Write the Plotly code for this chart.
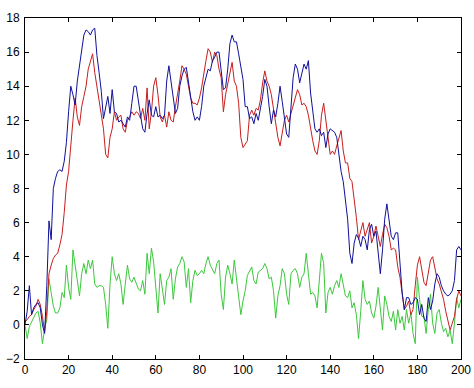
import plotly.graph_objects as go

x_vals = list(range(0, 201))

blue_vals = [
    0.0, 0.8, 2.3, 0.6, 1.0, 1.2, 1.3, 1.0, 0.0, -0.5,
    2.3, 6.1, 5.0, 8.0, 8.6, 9.0, 9.1, 9.0, 9.6, 10.7,
    12.5, 14.0, 13.5, 12.9, 14.3, 15.2, 16.0, 17.0, 17.3, 17.2,
    17.0, 17.3, 17.4, 15.8, 14.8, 13.7, 12.1, 12.8, 13.4, 12.4,
    13.8, 12.5, 12.4, 11.9, 12.0, 11.8, 11.6, 12.2, 12.0, 13.0,
    14.0, 14.0, 13.0, 12.3, 11.5, 11.3, 12.4, 13.2, 12.3, 12.2,
    12.8, 12.2, 12.3, 12.1, 12.3, 14.3, 15.2, 14.2, 13.2, 12.4,
    12.7, 14.0, 14.6, 15.0, 15.1, 14.2, 13.2, 12.5, 12.0, 12.2,
    12.0, 12.8, 14.0, 14.5, 15.0, 14.9, 15.5, 15.7, 16.0, 16.0,
    14.8, 13.8, 13.9, 15.0, 16.5, 17.0, 16.6, 16.6, 15.9, 15.0,
    14.4, 12.8, 12.8, 12.1, 12.2, 11.8, 12.4, 12.0, 12.6, 13.4,
    14.4, 14.0, 12.8, 11.8, 12.6, 12.2, 13.0, 14.0, 13.1, 12.1,
    11.2, 11.0, 12.8, 14.5, 15.3, 15.0, 14.2, 14.8, 15.3, 15.0,
    15.5, 13.6, 12.7, 11.5, 11.3, 11.5, 11.1, 11.3, 10.4, 11.2,
    11.5, 11.4, 11.3, 11.0, 10.0, 9.0, 8.4, 7.2, 6.2, 4.2,
    3.6, 4.8, 5.3, 5.1, 4.6, 5.2, 5.0, 4.4, 5.6, 5.9,
    5.2, 5.5, 4.3, 3.0, 4.4, 6.2, 7.1, 6.2, 5.2, 5.0,
    5.4, 5.4, 3.5, 1.9, 0.9, 1.6, 1.6, 1.2, 1.3, 1.6,
    1.5, 0.6, 1.2, 0.4, 0.2, 1.6, 0.9, 1.4, 2.4, 3.0,
    2.8, 2.3, 2.0, 1.8, 1.7, 1.8, 2.0, 2.6, 4.4, 4.6,
    4.4,
]

red_vals = [
    0.2, 0.3, 0.5, 0.6, 0.9, 1.1, 1.5, 1.2, 0.5, -0.4,
    0.8, 3.0, 3.5, 3.9, 4.1, 4.2, 4.7, 5.3, 6.6, 8.2,
    9.0, 10.8, 12.0, 13.3, 12.2, 11.7, 12.8, 13.4, 14.0, 15.0,
    15.5, 15.9, 14.8, 14.0, 13.2, 12.5, 11.5, 10.0, 9.8, 11.0,
    11.5, 12.5, 12.0, 12.2, 12.3, 11.5, 11.3, 12.0, 12.2, 12.5,
    12.3, 12.5, 12.4, 12.1, 12.7, 12.0, 13.9, 11.5, 12.5, 14.0,
    14.5, 13.5, 12.2, 11.9, 12.3, 11.6, 12.5, 12.0, 11.9, 12.8,
    13.5, 14.3, 15.2, 15.0, 14.7, 14.0, 13.3, 13.0, 13.0, 12.9,
    13.3, 13.9, 14.8, 15.5, 16.2, 16.0, 15.4, 16.0, 15.8, 15.0,
    14.5, 12.5, 13.5, 14.1, 14.9, 15.4, 14.3, 14.0, 13.0, 11.0,
    10.4, 10.6, 10.8, 12.3, 12.6, 12.3, 12.7, 12.6, 13.2, 14.2,
    14.9, 14.3, 14.0, 13.5, 12.7, 12.0, 11.0, 10.5, 11.3, 12.0,
    12.3, 11.9, 12.4, 12.9, 13.3, 13.8, 13.5, 12.9, 13.0, 12.8,
    12.3, 11.5, 10.8, 10.2, 10.0, 10.8, 12.3, 13.0, 12.0, 10.8,
    10.0, 10.2, 10.0, 10.5, 11.0, 11.4, 10.2, 9.5, 9.5, 8.6,
    8.4, 7.5, 6.3, 5.0, 5.5, 6.0, 5.2, 5.6, 6.0, 4.8,
    5.2, 5.8, 5.2, 4.6, 5.3, 5.9, 5.7, 5.2, 4.4, 4.5,
    4.4, 3.4, 2.8, 1.8, 0.9, 1.1, 1.4, 0.6, 0.9, 2.3,
    3.5, 4.0, 3.3, 2.5, 2.3, 3.2, 3.8, 4.0, 3.3, 2.7,
    2.4, 2.0, 1.5, 0.8, 0.3, -0.3, 0.1, 0.5, 1.5, 2.0,
    1.7,
]

green_vals = [
    0.0, -0.8, -0.1, 0.2, 0.4, 0.7, 0.8, 0.1, -1.1, -0.2,
    0.3, 2.7, 1.9, 1.1, 0.7, 0.7, 1.0, 1.9, 1.6, 3.5,
    2.2, 1.5, 4.4, 3.5, 2.5, 1.7, 3.0, 3.6, 3.0, 3.8,
    3.3, 3.8, 2.4, 2.2, 2.3, 2.3, 2.2, 1.2, -0.2, 2.4,
    4.0, 3.0, 2.6, 3.0, 2.4, 1.2, 2.4, 3.5, 2.7, 2.5,
    2.8, 2.5, 2.1, 2.0, 2.6, 1.8, 4.2, 3.0, 4.5, 3.7,
    2.2, 0.7, 3.0, 2.2, 1.2, 2.6, 2.8, 3.3, 1.5, 2.7,
    3.4, 3.6, 4.0, 3.7, 2.2, 3.3, 1.3, 2.6, 3.2, 2.9,
    3.0, 3.2, 3.0, 3.6, 4.0, 3.5, 3.2, 3.0, 3.6, 3.8,
    1.8, 0.9, 2.8, 3.5, 3.0, 2.4, 3.8, 2.8, 1.5, 0.6,
    1.4, 2.0, 2.9, 3.2, 3.4, 2.6, 2.4, 3.1, 3.2, 3.3,
    3.6, 3.3, 2.7, 2.8, 2.0, 0.4, 1.7, 2.3, 3.3, 3.0,
    1.8, 1.2, 3.0, 3.2, 3.3, 3.0, 2.2, 2.8, 3.0, 4.2,
    3.0, 1.8, 1.9, 1.7, 1.0, 2.4, 4.2, 3.6, 0.7, 1.9,
    2.2, 1.8, 2.3, 2.6, 2.2, 3.0, 2.4, 1.7, 1.6, 2.0,
    1.0, 1.3, 0.6, -0.8, 0.8, 2.6, 1.5, 1.2, 1.4, 0.7,
    0.4, 1.1, 2.2, 1.0, -0.3, 1.7, 1.2, 0.5, 0.2, 0.8,
    -0.3, 0.9, 0.1, 0.5, -0.3, 0.9, 0.1, 0.7, -0.5, -1.1,
    2.8, 1.5, 0.5, 0.5, -0.5, 0.9, 1.8, 0.1, -0.5, 0.7,
    0.9, 0.1, -0.4, -0.2, -0.7, -0.3, -1.1, 0.1, 1.6, 1.0,
    1.5,
]

x_ticks = list(range(0, 201, 20))
y_ticks = list(range(-2, 19, 2))

fig = go.Figure()
fig.add_trace(go.Scatter(x=x_vals, y=green_vals, mode="lines",
                         line=dict(color="#3cc83c", width=1)))
fig.add_trace(go.Scatter(x=x_vals, y=red_vals, mode="lines",
                         line=dict(color="#c81e1e", width=1)))
fig.add_trace(go.Scatter(x=x_vals, y=blue_vals, mode="lines",
                         line=dict(color="#10109a", width=1)))

axis_common = dict(
    showline=True, linecolor="black", linewidth=1, mirror="ticks",
    ticks="inside", ticklen=4, tickcolor="black", tickwidth=1,
    showgrid=False, zeroline=False, automargin=False,
    tickfont=dict(family="Liberation Sans, Arial, sans-serif", size=12, color="black"),
)

fig.update_layout(
    width=474, height=388,
    margin=dict(l=25, r=13, t=18, b=29),
    paper_bgcolor="white", plot_bgcolor="white",
    showlegend=False,
    xaxis=dict(range=[0, 200], tickvals=x_ticks, **axis_common),
    yaxis=dict(range=[-2, 18], tickvals=y_ticks, ticklabelstandoff=2, **axis_common),
)

fig.write_html(
    "out.html",
    config={"displayModeBar": False},
    post_script="document.body.style.margin='0';document.body.style.overflow='hidden';",
)
